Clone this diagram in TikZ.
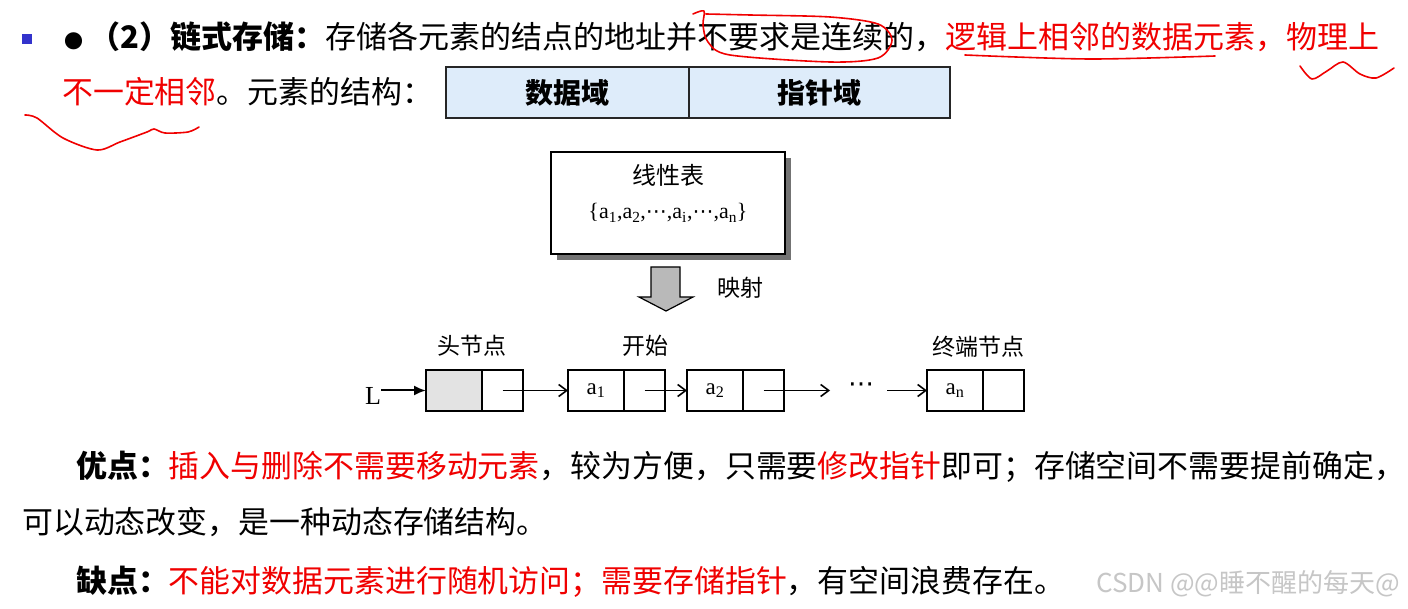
\documentclass[tikz,border=0pt]{standalone}
\usepackage{fontspec}
\setmainfont{Noto Sans CJK SC}
\newfontfamily\tms{Liberation Serif}
\newfontfamily\dejavu{DejaVu Sans}
\usetikzlibrary{positioning,arrows.meta}
\tikzset{>=latex}
\definecolor{pen}{RGB}{240,0,0}
\definecolor{fieldblue}{RGB}{222,236,250}
\definecolor{bulletblue}{RGB}{51,51,204}
\tikzset{
  txtline/.style={anchor=west,inner sep=0pt,font=\fontsize{30.9}{36}\selectfont},
  field/.style={draw=black!85,line width=1.5pt,fill=fieldblue,minimum height=51pt,inner sep=0pt,outer sep=0pt,font=\fontsize{28}{32}\selectfont\bfseries},
  cell/.style={draw,line width=1.5pt,minimum height=41pt,inner sep=0pt,outer sep=0pt,font=\tms\fontsize{23}{26}\selectfont},
  datacell/.style={cell,minimum width=56pt},
  ptrcell/.style={cell,minimum width=41pt},
  tag/.style={inner sep=0pt,font=\fontsize{23}{26}\selectfont},
  link/.style={line width=1.8pt,-{Straight Barb[length=8pt,width=12pt,line width=1.6pt]}},
  ink/.style={pen,line width=1.6pt,line cap=round,line join=round}
}
\newcommand{\bigdot}{\makebox[25.5pt][l]{\fontsize{19}{20}\selectfont\mdseries ●}}
\newcommand{\middots}[1]{{\dejavu\fontsize{#1}{#1}\selectfont ⋯}}

\begin{document}
\begin{tikzpicture}[x=1pt,y=-1pt]
\useasboundingbox[fill=white] (0,0) rectangle (1408,609);

% heading lines
\fill[bulletblue] (22,34) rectangle (32,44);
\node[txtline,font=\fontsize{31}{36}\selectfont] (head1) at (64,37) {{\bfseries \bigdot（2）链式存储：}存储各元素的结点的地址并不要求是连续的，\textcolor{pen}{逻辑上相邻的数据元素，物理上}};
\node[txtline] (head2) at (62,92) {\textcolor{pen}{不一定相邻}。元素的结构：};

% element structure
\node[field,minimum width=243pt] (datafld) at (567.5,92.5) {数据域};
\node[field,minimum width=261pt,right=0pt of datafld] (ptrfld) {指针域};

% linear list and mapping
\fill[black!55] (557,158) rectangle (791,260);
\node[draw,line width=1.6pt,fill=white,minimum width=234pt,minimum height=102pt] (tbl) at (668,203) {};
\node[tag,font=\fontsize{24}{28}\selectfont] (tname) at (668,175) {线性表};
\node[inner sep=0pt,font=\tms\fontsize{22}{26}\selectfont] (tset) at (668,213)
  {\{a\textsubscript{1},a\textsubscript{2},\middots{21},a\textsubscript{i},\middots{21},a\textsubscript{n}\}};
\draw[line width=1.2pt,fill=gray!55] (651,267) -- (680,267) -- (680,297) -- (693,297)
  -- (666,311) -- (639,297) -- (651,297) -- cycle;
\node[tag] (maplbl) at (740,288) {映射};

% linked list
\node[tag,font=\tms\fontsize{26}{28}\selectfont] (L) at (373,396) {L};
\node[datacell,fill=gray!22] (h) at (454,390.5) {};
\node[ptrcell,right=0pt of h] (hp) {};
\node[datacell] (a1) at (596,390.5) {a\textsubscript{1}};
\node[ptrcell,right=0pt of a1] (a1p) {};
\node[datacell] (a2) at (715,390.5) {a\textsubscript{2}};
\node[ptrcell,right=0pt of a2] (a2p) {};
\node[datacell] (an) at (955,390.5) {a\textsubscript{n}};
\node[ptrcell,right=0pt of an] (anp) {};
\node[inner sep=0pt] (dots) at (861,388) {\middots{26}};
\coordinate (gapin) at (830,390.5);
\coordinate (gapout) at (887,390.5);

\node[tag] (headlbl) at (472,346) {头节点};
\node[tag] (startlbl) at (645,346) {开始};
\node[tag] (endlbl) at (978,347) {终端节点};

\draw[line width=2pt,-{Latex[length=12pt,width=10pt]}] (L.east |- h.west) -- (h.west);
\draw[link] (hp.center) -- (a1.west);
\draw[link] (a1p.center) -- (a2.west);
\draw[link] (a2p.center) -- (gapin);
\draw[link] (gapout) -- (an.west);

% pros and cons
\node[txtline] (pro1) at (76,467) {{\bfseries 优点：}\textcolor{pen}{插入与删除不需要移动元素}，较为方便，只需要\textcolor{pen}{修改指针}即可；存储空间不需要提前确定，};
\node[txtline] (pro2) at (22,522) {可以动态改变，是一种动态存储结构。};
\node[txtline] (con) at (76,582) {{\bfseries 缺点：}\textcolor{pen}{不能对数据元素进行随机访问；需要存储指针}，有空间浪费存在。};
\node[inner sep=0pt,font=\fontsize{26}{30}\selectfont,text=gray!45] (mark) at (1248,584) {CSDN @@睡不醒的每天@};

% hand marks
\draw[ink] plot[smooth] coordinates {(693,14) (704,11) (703,25) (708,42) (730,55) (830,62) (878,58) (892,40) (878,24) (830,17) (750,15) (706,14)};
\draw[ink] plot[smooth] coordinates {(965,55) (1090,59) (1215,56)};
\draw[ink] plot[smooth] coordinates {(1300,66) (1312,79) (1327,71) (1343,62) (1360,74) (1376,78) (1394,68)};
\draw[ink] plot[smooth] coordinates {(25,115) (37,118) (63,138) (97,150) (120,142) (147,132) (154,129) (165,133) (188,132) (199,127)};
\end{tikzpicture}
\end{document}
